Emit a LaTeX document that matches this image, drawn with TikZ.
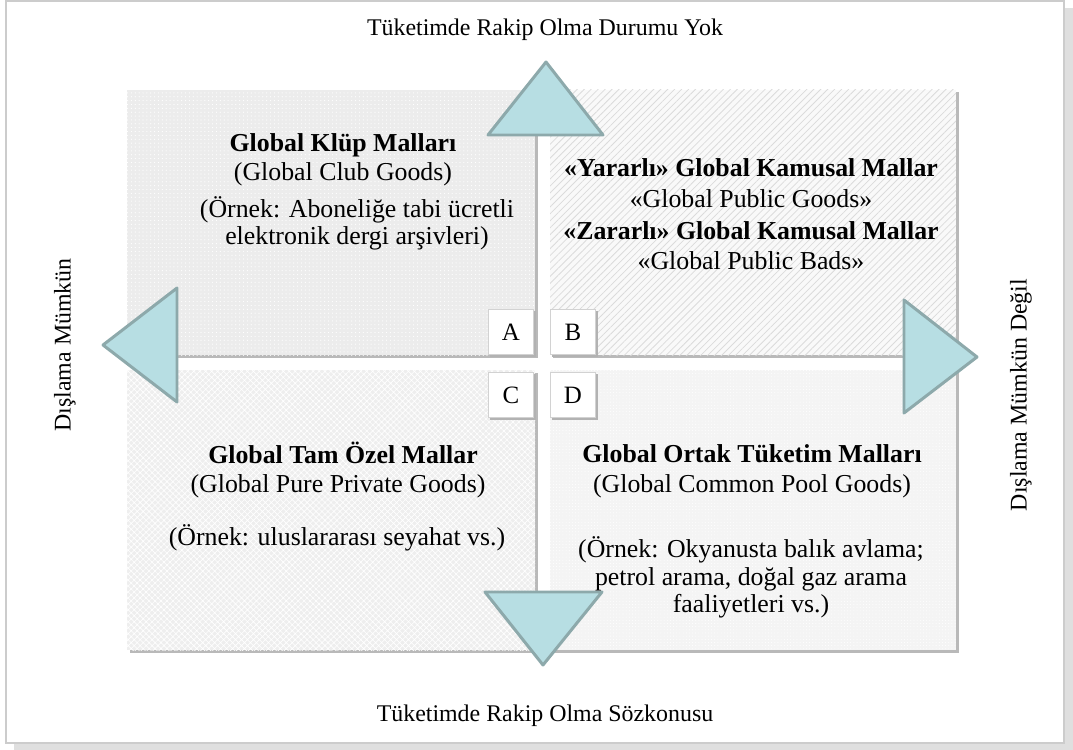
\documentclass[tikz,border=0pt]{standalone}
\usepackage{fontspec}
\setmainfont{Liberation Serif}
\usetikzlibrary{patterns.meta,shadows}

\definecolor{arrowfill}{RGB}{183,222,227}
\definecolor{arrowline}{RGB}{141,169,171}

\tikzset{
    pointer/.style={fill=arrowfill, draw=arrowline, line width=1.7pt, line join=round},
    cellbox/.style={draw=gray!35, fill=white, minimum size=26pt, inner sep=0pt,
        font=\fontsize{14.2}{17}\selectfont,
        drop shadow={shadow xshift=1.3pt, shadow yshift=-1.3pt, opacity=1, fill=gray!60}},
    axis/.style={font=\fontsize{13.6}{16}\selectfont},
    head/.style={anchor=base, font=\bfseries\fontsize{14.7}{17}\selectfont},
    sub/.style={anchor=base, font=\fontsize{14.7}{17}\selectfont},
}

\begin{document}
\begin{tikzpicture}[x=0.02cm, y=-0.02cm]

    % Fix the page to the size of the reference
    \useasboundingbox (0,0) rectangle (1073,750);

    % Outer frame with its shadow
    \fill[gray!25] (14,8) rectangle (1073,750);
    \draw[gray!40, line width=0.8pt, fill=white] (6,1) rectangle (1064,743);

    % Shadows under the four quadrants
    \foreach \xa/\ya/\xb/\yb in {127/90/535/355, 550/90/956/355, 127/370/535/650, 550/370/956/650}
        \fill[gray!55] (\xa+2.5,\ya+2.5) rectangle (\xb+2.5,\yb+2.5);

    % The four quadrants with their textures
    \fill[gray!15] (127,90) rectangle (535,355);
    \path[pattern={Dots[radius=0.35pt, distance=2.2pt]}, pattern color=white] (127,90) rectangle (535,355);

    \fill[gray!5] (550,90) rectangle (956,355);
    \path[pattern={Lines[angle=45, distance=2.8pt, line width=0.45pt]}, pattern color=gray!28] (550,90) rectangle (956,355);

    \fill[gray!13] (127,370) rectangle (535,650);
    \path[pattern={Hatch[angle=45, distance=2.4pt, line width=0.35pt]}, pattern color=white] (127,370) rectangle (535,650);

    \fill[gray!9] (550,370) rectangle (956,650);
    \path[pattern={Dots[radius=0.3pt, distance=1.8pt]}, pattern color=white] (550,370) rectangle (956,650);

    % Big triangles pointing outwards
    \filldraw[pointer] (546,62) -- (603,135) -- (488,135) -- cycle;
    \filldraw[pointer] (103,345) -- (177,288) -- (177,402) -- cycle;
    \filldraw[pointer] (977,357) -- (904,300) -- (904,413) -- cycle;
    \filldraw[pointer] (543,665) -- (485,592) -- (602,592) -- cycle;

    % Small letter boxes in the middle
    \node[cellbox] (A) at (511,332) {A};
    \node[cellbox] (B) at (573,332) {B};
    \node[cellbox] (C) at (511,395) {C};
    \node[cellbox] (D) at (573,395) {D};

    % Axis labels
    \node[axis, anchor=base] (rivalno) at (545,36) {Tüketimde Rakip Olma Durumu Yok};
    \node[axis, anchor=base] (rivalyes) at (545,721) {Tüketimde Rakip Olma Sözkonusu};
    \node[axis, rotate=90] (exclyes) at (65,345) {Dışlama Mümkün};
    \node[axis, rotate=90] (exclno) at (1021,395) {Dışlama Mümkün Değil};

    % Quadrant A
    \node[head] (clubtr) at (343,152) {Global Klüp Malları};
    \node[sub] (cluben) at (343,181) {(Global Club Goods)};
    \node[sub] (clubex1) at (357,217) {(Örnek: Aboneliğe tabi ücretli};
    \node[sub] (clubex2) at (357,245) {elektronik dergi arşivleri)};

    % Quadrant B
    \node[head] (pubgood) at (751,177) {«Yararlı» Global Kamusal Mallar};
    \node[sub] (pubgooden) at (751,208) {«Global Public Goods»};
    \node[head] (pubbad) at (751,239) {«Zararlı» Global Kamusal Mallar};
    \node[sub] (pubbaden) at (751,270) {«Global Public Bads»};

    % Quadrant C
    \node[head] (privtr) at (343,463) {Global Tam Özel Mallar};
    \node[sub] (priven) at (338,492) {(Global Pure Private Goods)};
    \node[sub] (privex) at (337,545) {(Örnek: uluslararası seyahat vs.)};

    % Quadrant D
    \node[head] (pooltr) at (752,462) {Global Ortak Tüketim Malları};
    \node[sub] (poolen) at (752,492) {(Global Common Pool Goods)};
    \node[sub] (poolex1) at (751,557) {(Örnek: Okyanusta balık avlama;};
    \node[sub] (poolex2) at (751,585) {petrol arama, doğal gaz arama};
    \node[sub] (poolex3) at (751,612) {faaliyetleri vs.)};

\end{tikzpicture}
\end{document}
